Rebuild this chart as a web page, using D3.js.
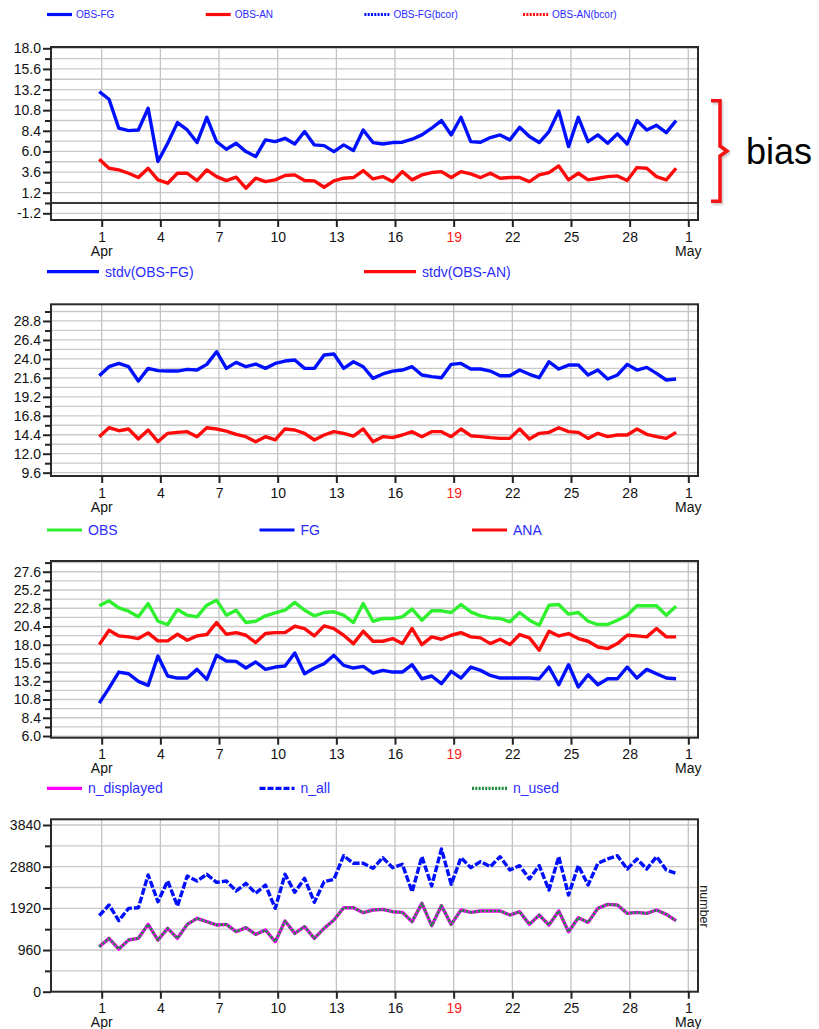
<!DOCTYPE html>
<html>
<head>
<meta charset="utf-8">
<script src="https://cdn.jsdelivr.net/npm/d3@7"></script>
<style>
  html, body { margin: 0; padding: 0; background: #fff; }
  svg { display: block; font-family: "Liberation Sans", Arial, Helvetica, sans-serif; }
</style>
</head>
<body>
<svg id="chart" width="819" height="1029"></svg>
<script>
// Twice-daily monitoring statistics, first cycle 31 Mar 21 UTC, last 30 Apr 09 UTC.

// bias of departures
const obsFg = [12.96, 12.07, 8.70, 8.42, 8.50, 11.02, 4.82, 6.95, 9.35, 8.50,
  7.03, 9.97, 7.14, 6.25, 6.95, 5.98, 5.40, 7.34, 7.14, 7.53,
  6.87, 8.31, 6.76, 6.68, 5.98, 6.76, 6.10, 8.50, 7.03, 6.87,
  7.03, 7.07, 7.42, 7.92, 8.70, 9.59, 7.92, 9.97, 7.14, 7.07,
  7.61, 7.92, 7.34, 8.81, 7.73, 7.03, 8.31, 10.71, 6.56, 9.97,
  7.14, 7.92, 6.95, 8.04, 6.87, 9.59, 8.50, 9.04, 8.19, 9.59];
const obsAn = [5.09, 4.04, 3.85, 3.46, 2.96, 4.04, 2.69, 2.30, 3.46, 3.46,
  2.61, 3.85, 3.07, 2.61, 3.00, 1.72, 2.88, 2.49, 2.69, 3.19,
  3.27, 2.61, 2.57, 1.83, 2.57, 2.88, 2.96, 3.77, 2.80, 3.07,
  2.49, 3.65, 2.69, 3.27, 3.54, 3.65, 2.96, 3.65, 3.38, 2.96,
  3.46, 2.88, 2.96, 2.96, 2.49, 3.27, 3.54, 4.31, 2.69, 3.46,
  2.69, 2.88, 3.07, 3.15, 2.61, 4.12, 4.04, 3.07, 2.69, 4.04];

// standard deviation of departures
const stdvFg = [21.87, 23.01, 23.43, 23.01, 21.20, 22.80, 22.51, 22.46, 22.46, 22.67,
  22.59, 23.31, 24.91, 22.80, 23.56, 23.01, 23.35, 22.80, 23.43, 23.73,
  23.86, 22.80, 22.80, 24.49, 24.62, 22.80, 23.64, 23.01, 21.54, 22.09,
  22.46, 22.59, 23.01, 21.96, 21.75, 21.62, 23.31, 23.43, 22.72, 22.72,
  22.46, 21.87, 21.87, 22.59, 22.05, 21.62, 23.64, 22.72, 23.22, 23.22,
  21.96, 22.59, 21.45, 21.96, 23.31, 22.59, 22.93, 22.17, 21.33, 21.45];
const stdvAn = [14.16, 15.29, 14.91, 15.13, 13.86, 15.00, 13.52, 14.58, 14.70, 14.79,
  14.16, 15.29, 15.13, 14.87, 14.45, 14.16, 13.52, 14.16, 13.74, 15.13,
  15.00, 14.58, 13.74, 14.37, 14.79, 14.58, 14.24, 15.13, 13.52, 14.16,
  14.03, 14.37, 14.79, 14.16, 14.79, 14.79, 14.16, 15.13, 14.28, 14.16,
  14.03, 13.94, 13.94, 15.13, 13.86, 14.58, 14.70, 15.29, 14.79, 14.70,
  13.94, 14.58, 14.16, 14.37, 14.37, 15.13, 14.45, 14.16, 13.94, 14.70];

// mean observed, first-guess and analysis values
const obs = [23.12, 23.78, 22.85, 22.41, 21.67, 23.42, 21.09, 20.66, 22.63, 21.89,
  21.67, 23.20, 23.86, 21.89, 22.54, 20.92, 21.09, 21.80, 22.19, 22.54,
  23.56, 22.54, 21.80, 22.24, 22.33, 21.89, 20.92, 23.42, 21.09, 21.45,
  21.45, 21.67, 22.68, 21.23, 22.46, 22.46, 22.24, 23.29, 22.33, 21.80,
  21.53, 21.45, 21.01, 22.24, 21.23, 20.57, 23.20, 23.29, 22.02, 22.24,
  21.09, 20.66, 20.66, 21.23, 21.89, 23.12, 23.12, 23.12, 21.89, 23.07];
const fg = [10.33, 12.30, 14.41, 14.19, 13.18, 12.66, 16.52, 13.89, 13.62, 13.62,
  14.76, 13.45, 16.61, 15.86, 15.82, 14.94, 15.73, 14.76, 15.07, 15.20,
  16.92, 14.19, 14.94, 15.51, 16.61, 15.29, 14.94, 15.16, 14.28, 14.63,
  14.41, 14.41, 15.38, 13.53, 13.89, 12.88, 14.50, 13.62, 15.07, 14.63,
  13.97, 13.62, 13.62, 13.62, 13.62, 13.53, 15.07, 12.74, 15.38, 12.44,
  14.06, 12.74, 13.53, 13.53, 15.07, 13.62, 14.76, 14.19, 13.62, 13.53];
const ana = [18.02, 19.91, 19.16, 19.03, 18.81, 19.56, 18.51, 18.51, 19.38, 18.59,
  19.16, 19.34, 20.92, 19.38, 19.60, 19.25, 18.28, 19.47, 19.60, 19.60,
  20.43, 20.13, 19.16, 20.48, 20.13, 19.25, 18.15, 19.78, 18.46, 18.46,
  18.81, 18.15, 20.13, 18.02, 19.03, 18.72, 19.25, 19.60, 19.03, 18.90,
  18.15, 18.72, 18.02, 19.34, 18.90, 17.27, 19.78, 19.16, 19.47, 18.81,
  18.46, 17.71, 17.49, 18.15, 19.25, 19.16, 19.03, 20.13, 19.03, 19.03];

// observation counts
const nAll = [1751, 1997, 1636, 1920, 1935, 2688, 2074, 2550, 1974, 2665,
  2550, 2703, 2519, 2550, 2319, 2496, 2266, 2458, 1920, 2703,
  2289, 2611, 2058, 2534, 2588, 3133, 2957, 2957, 2842, 3087,
  2857, 2934, 2304, 3110, 2435, 3287, 2473, 3087, 2857, 2995,
  2880, 3110, 2803, 2903, 2596, 2903, 2342, 3110, 2227, 2903,
  2458, 2957, 3057, 3133, 2826, 3057, 2826, 3110, 2803, 2726];
const nDisplayed = [1037, 1229, 983, 1190, 1229, 1551, 1190, 1459, 1229, 1551,
  1690, 1613, 1536, 1551, 1382, 1475, 1321, 1421, 1152, 1628,
  1344, 1498, 1229, 1459, 1651, 1935, 1935, 1820, 1882, 1897,
  1843, 1828, 1613, 2035, 1521, 1981, 1551, 1882, 1828, 1859,
  1859, 1859, 1766, 1843, 1551, 1766, 1536, 1859, 1382, 1705,
  1597, 1920, 2012, 1997, 1805, 1828, 1805, 1882, 1782, 1636];
const nUsed = [1037, 1229, 983, 1190, 1229, 1551, 1190, 1459, 1229, 1551,
  1690, 1613, 1536, 1551, 1382, 1475, 1321, 1421, 1152, 1628,
  1344, 1498, 1229, 1459, 1651, 1935, 1935, 1820, 1882, 1897,
  1843, 1828, 1613, 2035, 1521, 1981, 1551, 1882, 1828, 1859,
  1859, 1859, 1766, 1843, 1551, 1766, 1536, 1859, 1382, 1705,
  1597, 1920, 2012, 1997, 1805, 1828, 1805, 1882, 1782, 1636];

// axis ticks
const dayTickDates = ["2015-04-01", "2015-04-04", "2015-04-07", "2015-04-10", "2015-04-13",
  "2015-04-16", "2015-04-19", "2015-04-22", "2015-04-25", "2015-04-28", "2015-05-01"];
const dayTickLabels = ["1", "4", "7", "10", "13", "16", "19", "22", "25", "28", "1"];
const monthLabels = { 0: "Apr", 10: "May" };
const redDayLabels = ["19"];
const biasTicks = [-1.2, 1.2, 3.6, 6.0, 8.4, 10.8, 13.2, 15.6, 18.0];
const stdvTicks = [9.6, 12.0, 14.4, 16.8, 19.2, 21.6, 24.0, 26.4, 28.8];
const valueTicks = [6.0, 8.4, 10.8, 13.2, 15.6, 18.0, 20.4, 22.8, 25.2, 27.6];
const countTicks = [0, 960, 1920, 2880, 3840];

// ---------------------------------------------------------------
const svg = d3.select("#chart");
const BLUE = "#0010ff", RED = "#ff0a0a", GREEN = "#2ef02e",
      MAGENTA = "#ff00ff", DKGREEN = "#1d8a3f", LEGTXT = "#2b2bff";

const parseDay = d3.utcParse("%Y-%m-%d");
const startCycle = Date.UTC(2015, 2, 31, 21);
const times = obsFg.map((_, i) => new Date(startCycle + i * 12 * 3600e3));

const frameLeft = 51, frameRight = 698;
const x = d3.scaleUtc()
  .domain([parseDay("2015-04-01"), parseDay("2015-05-01")])
  .range([101.7, 688.3]);

const fmtLocale = d3.formatLocale({ decimal: ".", thousands: "", grouping: [3], currency: ["", ""], minus: "-" });
const fmt1 = fmtLocale.format(".1f");
const fmt0 = fmtLocale.format("d");

const panels = [
  {
    top: 47, bottom: 220, domain: [-1.98, 18.15], majors: biasTicks, minor: 1.2, fmt: fmt1,
    zeroLine: true,
    legendY: 14.5, legendFont: 10, legendLine: 25, legendGap: 4, legendStep: 158.7,
    legend: [
      { label: "OBS-FG", color: BLUE },
      { label: "OBS-AN", color: RED },
      { label: "OBS-FG(bcor)", color: BLUE, dash: "2,1.3" },
      { label: "OBS-AN(bcor)", color: RED, dash: "2,1.3" }
    ],
    series: [
      { values: obsFg, color: BLUE },
      { values: obsAn, color: RED }
    ]
  },
  {
    top: 304.3, bottom: 476, domain: [9.18, 30.91], majors: stdvTicks, minor: 1.2, fmt: fmt1,
    legendY: 271.7, legendFont: 14, legendLine: 52, legendGap: 6, legendStep: 317,
    legend: [
      { label: "stdv(OBS-FG)", color: BLUE },
      { label: "stdv(OBS-AN)", color: RED }
    ],
    series: [
      { values: stdvFg, color: BLUE },
      { values: stdvAn, color: RED }
    ]
  },
  {
    top: 561, bottom: 737.7, domain: [5.78, 29.01], majors: valueTicks, minor: 1.2, fmt: fmt1,
    legendY: 530, legendFont: 14, legendLine: 35, legendGap: 6, legendStep: 212.5,
    legend: [
      { label: "OBS", color: GREEN },
      { label: "FG", color: BLUE },
      { label: "ANA", color: RED }
    ],
    series: [
      { values: obs, color: GREEN },
      { values: ana, color: RED },
      { values: fg, color: BLUE }
    ]
  },
  {
    top: 819.3, bottom: 991.7, domain: [0, 3971], majors: countTicks, minor: 480, fmt: fmt0,
    rightLabel: "number",
    legendY: 788.3, legendFont: 14, legendLine: 35, legendGap: 6, legendStep: 212.5,
    legend: [
      { label: "n_displayed", color: MAGENTA },
      { label: "n_all", color: BLUE, dash: "6,2" },
      { label: "n_used", color: DKGREEN, dash: "2,1.3" }
    ],
    series: [
      { values: nAll, color: BLUE, dash: "7,2" },
      { values: nDisplayed, color: MAGENTA },
      { values: nUsed, color: DKGREEN, dash: "2.5,1.5", width: 2.6 }
    ]
  }
];

panels.forEach(p => {
  const g = svg.append("g");
  const y = d3.scaleLinear().domain(p.domain).range([p.bottom, p.top]);
  p.y = y;

  // minor positions: every half step between labelled ticks, inside the frame
  const lo = p.majors[0], hi = p.domain[1];
  const all = d3.range(Math.round((p.domain[1] - lo) / p.minor) + 2)
    .map(i => +(lo + i * p.minor).toFixed(4))
    .filter(v => v >= p.domain[0] && v <= hi);
  const minors = all.filter(v => !p.majors.some(m => Math.abs(m - v) < 1e-6));

  // horizontal grid
  g.append("g").selectAll("line").data(all).join("line")
    .attr("x1", frameLeft).attr("x2", frameRight)
    .attr("y1", d => y(d)).attr("y2", d => y(d))
    .attr("stroke", "#c9c9c9").attr("stroke-width", 1.3);

  // vertical grid at labelled days
  const tickDates = dayTickDates.map(parseDay);
  g.append("g").selectAll("line").data(tickDates).join("line")
    .attr("x1", d => x(d)).attr("x2", d => x(d))
    .attr("y1", p.top).attr("y2", p.bottom)
    .attr("stroke", "#c2c2c2").attr("stroke-width", 1.3);

  if (p.zeroLine) {
    g.append("line")
      .attr("x1", frameLeft).attr("x2", frameRight)
      .attr("y1", y(0)).attr("y2", y(0))
      .attr("stroke", "#3a3a3a").attr("stroke-width", 1.8);
  }

  // series
  const line = d3.line().x((d, i) => x(times[i])).y(d => y(d));
  p.series.forEach(s => {
    g.append("path")
      .attr("d", line(s.values))
      .attr("fill", "none")
      .attr("stroke", s.color)
      .attr("stroke-width", s.width || 3.4)
      .attr("stroke-linejoin", "round")
      .attr("stroke-dasharray", s.dash || null);
  });

  // frame
  g.append("rect")
    .attr("x", frameLeft).attr("y", p.top)
    .attr("width", frameRight - frameLeft).attr("height", p.bottom - p.top)
    .attr("fill", "none").attr("stroke", "#2b2b2b").attr("stroke-width", 2);

  // left axis: labelled ticks and unlabelled intermediate ticks
  const yAxis = g.append("g").attr("transform", `translate(${frameLeft},0)`)
    .call(d3.axisLeft(y).tickValues(p.majors).tickSize(8).tickPadding(2).tickFormat(p.fmt));
  yAxis.select(".domain").remove();
  yAxis.selectAll("line").attr("stroke", "#222").attr("stroke-width", 2);
  yAxis.selectAll("text").attr("font-size", 14).attr("fill", "#111")
    .attr("font-family", "'Liberation Sans', Arial, sans-serif");
  const yMinor = g.append("g").attr("transform", `translate(${frameLeft},0)`)
    .call(d3.axisLeft(y).tickValues(minors).tickSize(6).tickFormat(""));
  yMinor.select(".domain").remove();
  yMinor.selectAll("line").attr("stroke", "#222").attr("stroke-width", 2);

  // bottom axis with day numbers and month names
  const xAxis = g.append("g").attr("transform", `translate(0,${p.bottom})`)
    .call(d3.axisBottom(x).tickValues(tickDates).tickSize(7).tickFormat((d, i) => dayTickLabels[i]));
  xAxis.select(".domain").remove();
  xAxis.selectAll("line").attr("stroke", "#222").attr("stroke-width", 2);
  xAxis.selectAll("text")
    .attr("font-size", 14)
    .attr("font-family", "'Liberation Sans', Arial, sans-serif")
    .attr("y", 21.5).attr("dy", null)
    .attr("fill", (d, i) => redDayLabels.includes(dayTickLabels[i]) ? "#ff1a1a" : "#111");
  Object.entries(monthLabels).forEach(([i, name]) => {
    g.append("text")
      .attr("x", x(tickDates[+i])).attr("y", p.bottom + 35.5)
      .attr("text-anchor", "middle").attr("font-size", 14).attr("fill", "#111")
      .text(name);
  });

  if (p.rightLabel) {
    g.append("text")
      .attr("transform", `translate(${frameRight + 1.5},${(p.top + p.bottom) / 2 + 1}) rotate(90)`)
      .attr("text-anchor", "middle").attr("font-size", 12.5).attr("fill", "#222")
      .text(p.rightLabel);
  }

  // legend row
  const lg = g.append("g");
  p.legend.forEach((item, i) => {
    const x0 = 47 + i * p.legendStep;
    lg.append("line")
      .attr("x1", x0).attr("x2", x0 + p.legendLine)
      .attr("y1", p.legendY).attr("y2", p.legendY)
      .attr("stroke", item.color).attr("stroke-width", 3.2)
      .attr("stroke-dasharray", item.dash || null);
    lg.append("text")
      .attr("x", x0 + p.legendLine + p.legendGap).attr("y", p.legendY)
      .attr("dy", "0.36em")
      .attr("font-size", p.legendFont).attr("fill", LEGTXT)
      .text(item.label);
  });
});

// bracket marking the bias curves of the top panel
const y1 = panels[0].y;
const bTop = y1(11.9), bBot = y1(0.2), bMid = (bTop + bBot) / 2;
const bracketPath = `M711,${bTop} H720 V${bMid - 5} L727,${bMid} L720,${bMid + 5} V${bBot} H711`;
const defs = svg.append("defs");
defs.append("filter").attr("id", "soft").append("feGaussianBlur").attr("stdDeviation", 1.2);
svg.append("path").attr("d", bracketPath)
  .attr("transform", "translate(1.5,2)")
  .attr("fill", "none").attr("stroke", "#999").attr("stroke-opacity", 0.5)
  .attr("stroke-width", 3.5).attr("filter", "url(#soft)");
svg.append("path").attr("d", bracketPath)
  .attr("fill", "none").attr("stroke", "#f21414").attr("stroke-width", 3.5)
  .attr("stroke-linejoin", "miter");
svg.append("text")
  .attr("x", 746).attr("y", bMid + 13)
  .attr("font-size", 36).attr("fill", "#000")
  .text("bias");
</script>
</body>
</html>
